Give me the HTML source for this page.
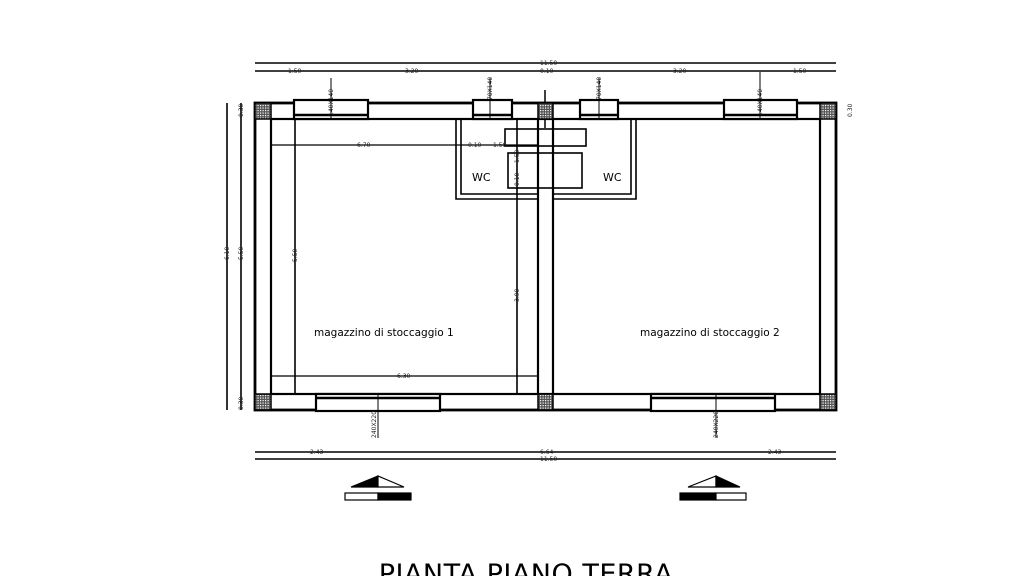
<!DOCTYPE html>
<html><head><meta charset="utf-8"><style>
html,body{margin:0;padding:0;background:#fff;width:1024px;height:576px;overflow:hidden}
svg{display:block}
text{font-family:"DejaVu Sans","Liberation Sans",sans-serif}
.d{font-size:6px;fill:#222;font-family:"Liberation Serif",serif}
</style></head><body>
<svg width="1024" height="576" viewBox="0 0 1024 576" xmlns="http://www.w3.org/2000/svg">
<defs>
<pattern id="h" width="2.5" height="2.5" patternUnits="userSpaceOnUse">
<rect width="2.5" height="2.5" fill="#555"/><rect width="1.2" height="1.2" fill="#fff"/>
</pattern>
</defs>
<g stroke="#000" fill="none">
<line x1="255" y1="63" x2="836" y2="63" stroke-width="1.6"/>
<line x1="255" y1="71" x2="836" y2="71" stroke-width="1.6"/>
<line x1="255" y1="452" x2="836" y2="452" stroke-width="1.6"/>
<line x1="255" y1="459" x2="836" y2="459" stroke-width="1.6"/>
<line x1="227" y1="103" x2="227" y2="410" stroke-width="1.6"/>
<line x1="241" y1="103" x2="241" y2="410" stroke-width="1.6"/>
<rect x="255" y="103" width="581" height="307" stroke-width="2.8"/>
<rect x="271" y="119" width="549" height="275" stroke-width="2.2"/>
<line x1="538" y1="119" x2="538" y2="394" stroke-width="2.2"/>
<line x1="553" y1="119" x2="553" y2="394" stroke-width="2.2"/>
<line x1="545" y1="90" x2="545" y2="128" stroke-width="1.5"/>
<line x1="295" y1="119" x2="295" y2="394" stroke-width="1.6"/>
<line x1="517" y1="119" x2="517" y2="394" stroke-width="1.6"/>
<line x1="271" y1="145" x2="538" y2="145" stroke-width="1.3"/>
<line x1="271" y1="376" x2="538" y2="376" stroke-width="1.3"/>
<polyline points="461,119 461,194 538,194" stroke-width="1.6"/>
<polyline points="456,119 456,199 538,199" stroke-width="1.6"/>
<polyline points="631,119 631,194 553,194" stroke-width="1.6"/>
<polyline points="636,119 636,199 553,199" stroke-width="1.6"/>
<rect x="505" y="129" width="81" height="17" stroke-width="1.6"/>
<rect x="508" y="153" width="74" height="35" stroke-width="1.6"/>
</g>
<g stroke="#000" fill="#fff" stroke-width="2.2">
<rect x="294" y="100" width="74" height="19"/>
<rect x="473" y="100" width="39" height="19"/>
<rect x="580" y="100" width="38" height="19"/>
<rect x="724" y="100" width="73" height="19"/>
<rect x="316" y="394" width="124" height="17"/>
<rect x="651" y="394" width="124" height="17"/>
</g>
<g stroke="#000" stroke-width="2.5">
<line x1="294" y1="115" x2="368" y2="115"/>
<line x1="473" y1="115" x2="512" y2="115"/>
<line x1="580" y1="115" x2="618" y2="115"/>
<line x1="724" y1="115" x2="797" y2="115"/>
<line x1="316" y1="398" x2="440" y2="398"/>
<line x1="651" y1="398" x2="775" y2="398"/>
</g>
<g stroke="#000" stroke-width="1">
<line x1="331" y1="78" x2="331" y2="119"/><line x1="490" y1="78" x2="490" y2="119"/>
<line x1="599" y1="78" x2="599" y2="119"/><line x1="760" y1="72" x2="760" y2="119"/>
<line x1="378" y1="394" x2="378" y2="438"/><line x1="716" y1="394" x2="716" y2="438"/>
</g>
<g fill="url(#h)" stroke="#000" stroke-width="1.5">
<rect x="255" y="103" width="16" height="16"/><rect x="538" y="103" width="15" height="16"/>
<rect x="820" y="103" width="16" height="16"/>
<rect x="255" y="394" width="16" height="16"/><rect x="538" y="394" width="15" height="16"/>
<rect x="820" y="394" width="16" height="16"/>
</g>
<g class="d">
<text x="540" y="65">11.50</text><text x="540" y="73">0.10</text>
<text x="288" y="73">1.50</text><text x="405" y="73">3.20</text>
<text x="673" y="73">3.20</text><text x="793" y="73">1.50</text>
<text x="357" y="147">6.70</text><text x="468" y="147">0.10</text><text x="493" y="147">1.50</text>
<text x="397" y="378">6.30</text>
<text x="310" y="454">2.43</text><text x="540" y="454">6.64</text><text x="540" y="461">11.50</text>
<text x="768" y="454">2.43</text>
</g>
<g class="d">
<text transform="translate(333,116) rotate(-90)">140X140</text>
<text transform="translate(492,100) rotate(-90)">70X140</text>
<text transform="translate(601,100) rotate(-90)">70X140</text>
<text transform="translate(762,116) rotate(-90)">140X140</text>
<text transform="translate(376,438) rotate(-90)">240X220</text>
<text transform="translate(718,438) rotate(-90)">240X220</text>
<text transform="translate(229,260) rotate(-90)">6.10</text>
<text transform="translate(243,260) rotate(-90)">5.50</text>
<text transform="translate(243,117) rotate(-90)">0.30</text>
<text transform="translate(243,410) rotate(-90)">0.30</text>
<text transform="translate(852,117) rotate(-90)">0.30</text>
<text transform="translate(297,262) rotate(-90)">5.50</text>
<text transform="translate(519,302) rotate(-90)">3.90</text>
<text transform="translate(519,163) rotate(-90)">1.50</text>
<text transform="translate(519,186) rotate(-90)">0.10</text>
</g>
<g font-size="11" fill="#000">
<text x="472" y="181">WC</text><text x="603" y="181">WC</text>
<text x="314" y="336" font-size="10.5">magazzino di stoccaggio 1</text>
<text x="640" y="336" font-size="10.5">magazzino di stoccaggio 2</text>
</g>
<g stroke="#000" stroke-width="1.2">
<polygon points="351,487 378,476 378,487" fill="#000"/>
<polygon points="378,476 404,487 378,487" fill="#fff"/>
<rect x="345" y="493" width="33" height="7" fill="#fff"/>
<rect x="378" y="493" width="33" height="7" fill="#000"/>
<polygon points="688,487 716,476 716,487" fill="#fff"/>
<polygon points="716,476 740,487 716,487" fill="#000"/>
<rect x="680" y="493" width="36" height="7" fill="#000"/>
<rect x="716" y="493" width="30" height="7" fill="#fff"/>
</g>
<text x="526" y="583" font-size="27" text-anchor="middle" fill="#000" letter-spacing="0.5">PIANTA PIANO TERRA</text>
</svg>
</body></html>
